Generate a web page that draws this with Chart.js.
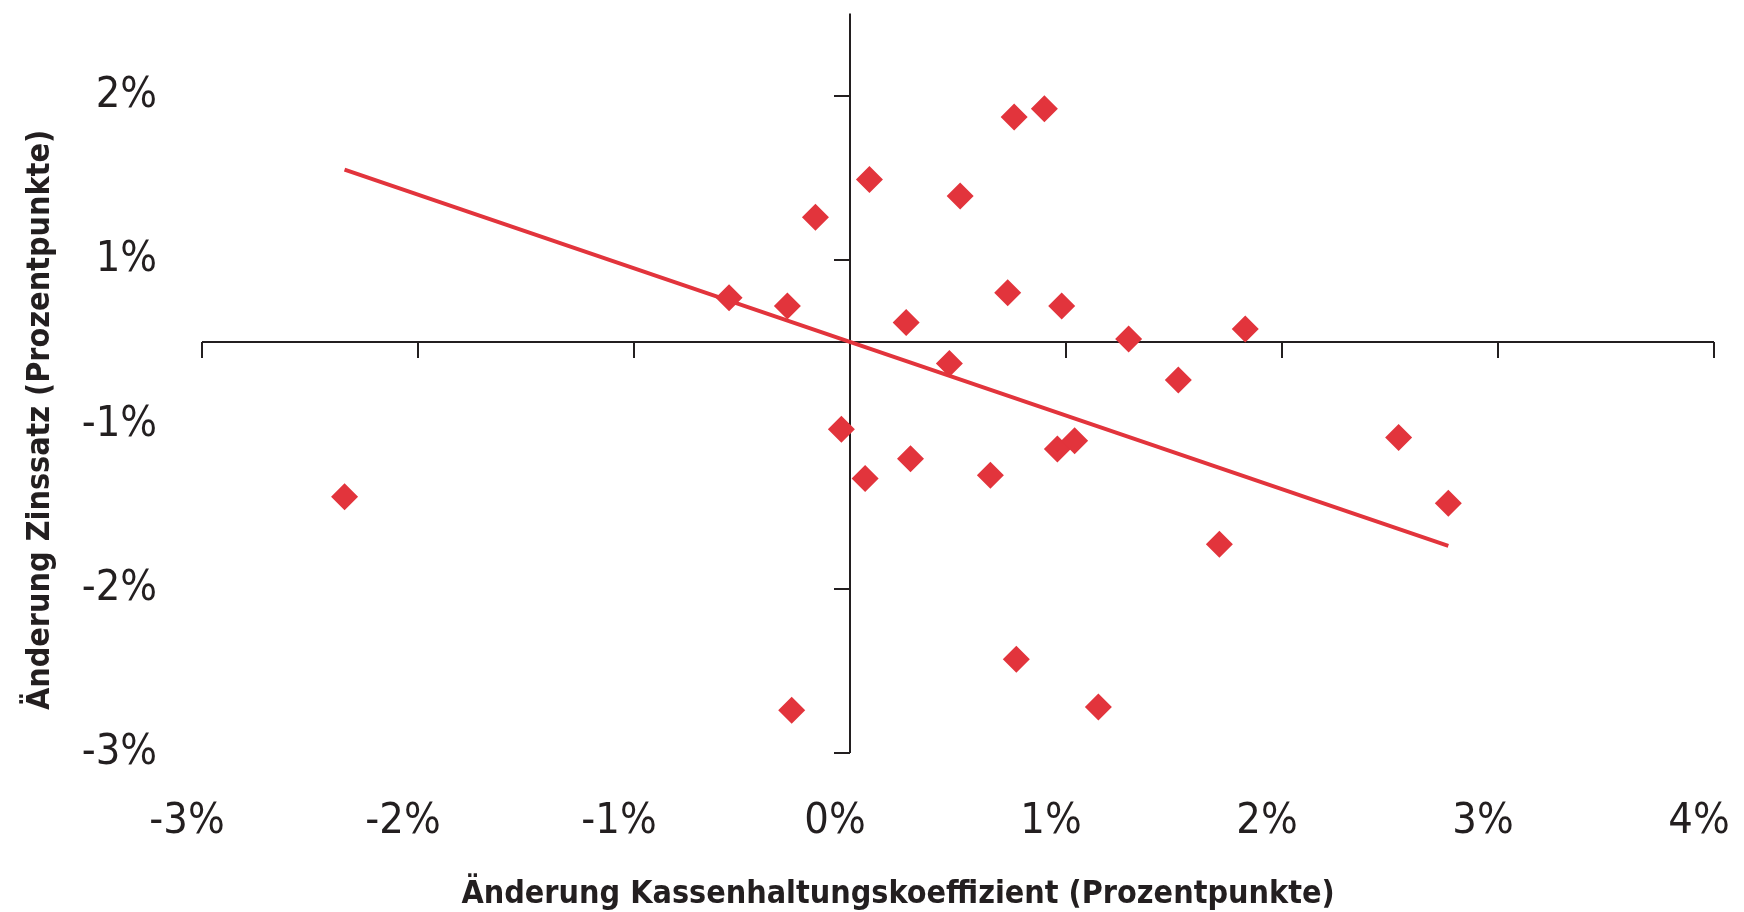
<!DOCTYPE html>
<html>
<head>
<meta charset="utf-8">
<script src="https://cdn.jsdelivr.net/npm/chart.js@4"></script>
<style>
  html, body { margin: 0; padding: 0; background: #fff; }
  #wrap { width: 1744px; height: 912px; position: relative; }
</style>
</head>
<body>
<div id="wrap"><canvas id="c"></canvas></div>
<script>
// change in cash ratio (x) vs change in interest rate (y), percentage points
const xValues = [-2.34, -0.56, -0.29, -0.16, -0.27, -0.04, 0.07, 0.09, 0.26, 0.28, 0.46, 0.51, 0.65, 0.73,
                 0.76, 0.77, 0.90, 0.96, 0.98, 1.04, 1.15, 1.29, 1.52, 1.71, 1.83, 2.54, 2.77];
const yValues = [-0.94, 0.27, 0.22, 0.76, -2.24, -0.53, -0.83, 0.99, 0.12, -0.71, -0.13, 0.89, -0.81, 0.30,
                 1.37, -1.93, 1.42, -0.65, 0.22, -0.60, -2.22, 0.02, -0.23, -1.23, 0.08, -0.58, -0.98];
const trendX = [-2.34, 2.77];
const trendY = [1.05, -1.24];

const xTicks = [-3, -2, -1, 0, 1, 2, 3, 4];
const xTickLabels = ['-3%', '-2%', '-1%', '0%', '1%', '2%', '3%', '4%'];
const yTicks = [-2.5, -1.5, -0.5, 0.5, 1.5];
const yTickLabels = ['-3%', '-2%', '-1%', '1%', '2%'];
const xTitle = 'Änderung Kassenhaltungskoeffizient (Prozentpunkte)';
const yTitle = 'Änderung Zinssatz (Prozentpunkte)';

const red = '#e2343c';
const ink = '#231f20';
const narrow = '"DejaVu Sans Condensed", "Liberation Sans Narrow", sans-serif';

// axes cross at zero, tick marks point outwards, titles drawn by hand
const crossAxes = {
    id: 'crossAxes',
    beforeDatasetsDraw(chart) {
        const {ctx, scales: {x, y}} = chart;
        const x0 = Math.round(x.getPixelForValue(0));
        const y0 = Math.round(y.getPixelForValue(0));
        ctx.save();
        ctx.strokeStyle = ink;
        ctx.lineWidth = 2;
        ctx.beginPath();
        ctx.moveTo(x.left, y0); ctx.lineTo(x.right, y0);
        ctx.moveTo(x0, y.top); ctx.lineTo(x0, y.bottom);
        xTicks.forEach(v => {
            if (v === 0) return;
            const px = Math.round(x.getPixelForValue(v));
            ctx.moveTo(px, y0); ctx.lineTo(px, y0 + 16);
        });
        yTicks.forEach(v => {
            const py = Math.round(y.getPixelForValue(v));
            ctx.moveTo(x0, py); ctx.lineTo(x0 - 16, py);
        });
        ctx.stroke();
        ctx.restore();
    },
    afterDraw(chart) {
        const ctx = chart.ctx;
        ctx.save();
        ctx.fillStyle = ink;
        ctx.font = 'bold 32px ' + narrow;
        ctx.textAlign = 'center';
        ctx.textBaseline = 'alphabetic';
        ctx.fillText(xTitle, 898, 903);
        ctx.translate(49, 420);
        ctx.rotate(-Math.PI / 2);
        ctx.fillText(yTitle, 0, 0);
        ctx.restore();
    }
};

new Chart(document.getElementById('c'), {
    type: 'scatter',
    data: {
        datasets: [
            { label: 'Beobachtungen',
              data: xValues.map((v, i) => ({x: v, y: yValues[i]})),
              pointStyle: 'rectRot',
              pointRadius: 13.5,
              backgroundColor: red,
              borderWidth: 0
            },
            { label: 'Trend',
              data: trendX.map((v, i) => ({x: v, y: trendY[i]})),
              showLine: true,
              borderColor: red,
              borderWidth: 4,
              pointRadius: 0
            }
        ]
    },
    options: {
        responsive: true,
        maintainAspectRatio: false,
        animation: false,
        layout: { padding: { top: 11, right: 30, left: 0, bottom: 0 } },
        plugins: {
            legend: { display: false },
            tooltip: { enabled: false }
        },
        scales: {
            x: {
                min: -3, max: 4,
                afterBuildTicks: s => { s.ticks = xTicks.map(v => ({value: v})); },
                afterFit: s => { s.height = 159; s.paddingLeft = 0; s.paddingRight = 0; },
                ticks: {
                    callback: v => xTickLabels[xTicks.indexOf(v)],
                    font: { family: narrow, size: 43 },
                    color: ink,
                    padding: 43,
                    labelOffset: -15,
                    autoSkip: false,
                    maxRotation: 0
                },
                grid: { display: false, drawTicks: false },
                border: { display: false }
            },
            y: {
                min: -2.5, max: 2.0,
                afterBuildTicks: s => { s.ticks = yTicks.map(v => ({value: v})); },
                afterFit: s => { s.width = 202; s.paddingTop = 0; s.paddingBottom = 0; },
                ticks: {
                    callback: v => yTickLabels[yTicks.indexOf(v)],
                    font: { family: narrow, size: 43 },
                    color: ink,
                    padding: 45,
                    autoSkip: false
                },
                grid: { display: false, drawTicks: false },
                border: { display: false }
            }
        }
    },
    plugins: [crossAxes]
});
</script>
</body>
</html>
